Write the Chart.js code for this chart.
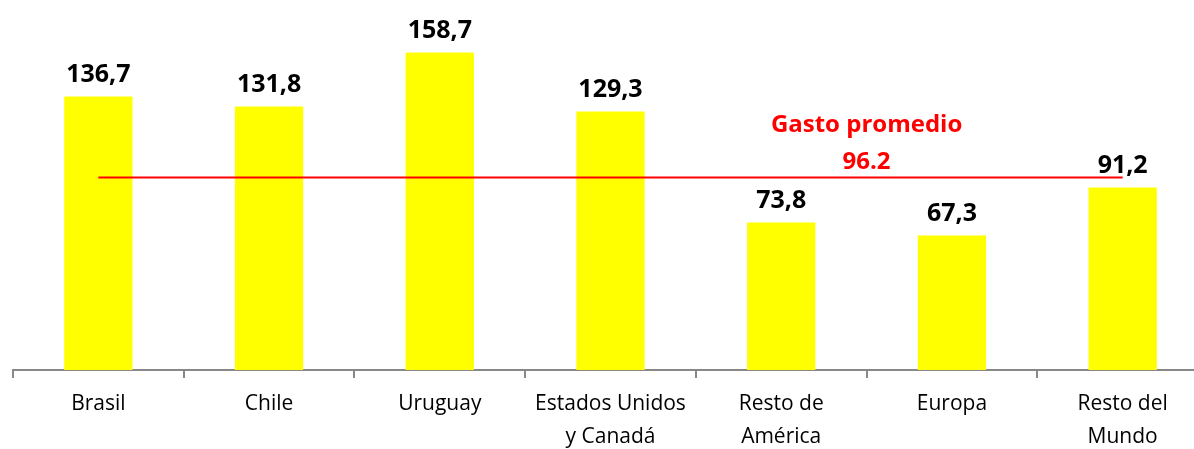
<!DOCTYPE html>
<html>
<head>
<meta charset="utf-8">
<script src="https://cdn.jsdelivr.net/npm/chart.js@4"></script>
<style>
  html, body { margin: 0; padding: 0; background: #fff; overflow: hidden; }
  #wrap { position: absolute; left: 0; top: 0; width: 1208px; height: 449px; }
</style>
</head>
<body>
<div id="wrap"><canvas id="gastoChart"></canvas></div>
<script>
const categories = [
  "Brasil", "Chile", "Uruguay", ["Estados Unidos", "y Canadá"],
  ["Resto de", "América"], "Europa", ["Resto del", "Mundo"]
];
const gasto = [136.7, 131.8, 158.7, 129.3, 73.8, 67.3, 91.2];
const promedio = [96.2, 96.2, 96.2, 96.2, 96.2, 96.2, 96.2];
const promedioTitle = "Gasto promedio";
const promedioLabel = "96.2";

// value labels above the bars + the red annotation for the average line
const labelPlugin = {
  id: "labels",
  afterDatasetsDraw(chart) {
    const ctx = chart.ctx;
    ctx.save();
    ctx.textAlign = "center";
    ctx.textBaseline = "middle";

    const bars = chart.getDatasetMeta(1).data;
    ctx.fillStyle = "#000";
    ctx.font = 'bold 25px "Open Sans"';
    bars.forEach((bar, i) => {
      const txt = gasto[i].toFixed(1).replace(".", ",");
      ctx.fillText(txt, bar.x, bar.y - 22);
    });

    // annotation sits between 5th and 6th category
    const pts = chart.getDatasetMeta(0).data;
    const x = (pts[4].x + pts[5].x) / 2;
    const y = pts[4].y;
    ctx.fillStyle = "#FF0000";
    ctx.font = 'bold 24px "Open Sans"';
    ctx.fillText(promedioTitle, x, y - 52);
    ctx.fillText(promedioLabel, x, y - 15);
    ctx.restore();
  }
};

new Chart(document.getElementById("gastoChart"), {
  data: {
    labels: categories,
    datasets: [
      {
        type: "line",
        label: "Gasto promedio",
        data: promedio,
        borderColor: "#FF0000",
        borderWidth: 2,
        pointRadius: 0,
        fill: false,
        order: 0
      },
      {
        type: "bar",
        label: "Gasto",
        data: gasto,
        backgroundColor: "#FFFF00",
        borderWidth: 0,
        barPercentage: 0.4,
        categoryPercentage: 1,
        order: 1
      }
    ]
  },
  options: {
    responsive: true,
    maintainAspectRatio: false,
    animation: false,
    layout: { padding: { left: 13, top: 10, right: 0, bottom: 0 } },
    plugins: {
      legend: { display: false },
      tooltip: { enabled: false }
    },
    scales: {
      x: {
        offset: true,
        grid: {
          offset: true,
          drawOnChartArea: false,
          drawTicks: true,
          tickLength: 8,
          color: "#888",
          lineWidth: 2
        },
        border: { display: true, color: "#888", width: 2 },
        ticks: {
          color: "#000",
          font: { family: "Open Sans", size: 21, lineHeight: 1.57 },
          padding: 10,
          autoSkip: false,
          maxRotation: 0
        },
        afterFit: s => { s.height = 79; }
      },
      y: {
        display: false,
        min: 0,
        max: 180
      }
    }
  },
  plugins: [labelPlugin]
});
</script>
</body>
</html>
